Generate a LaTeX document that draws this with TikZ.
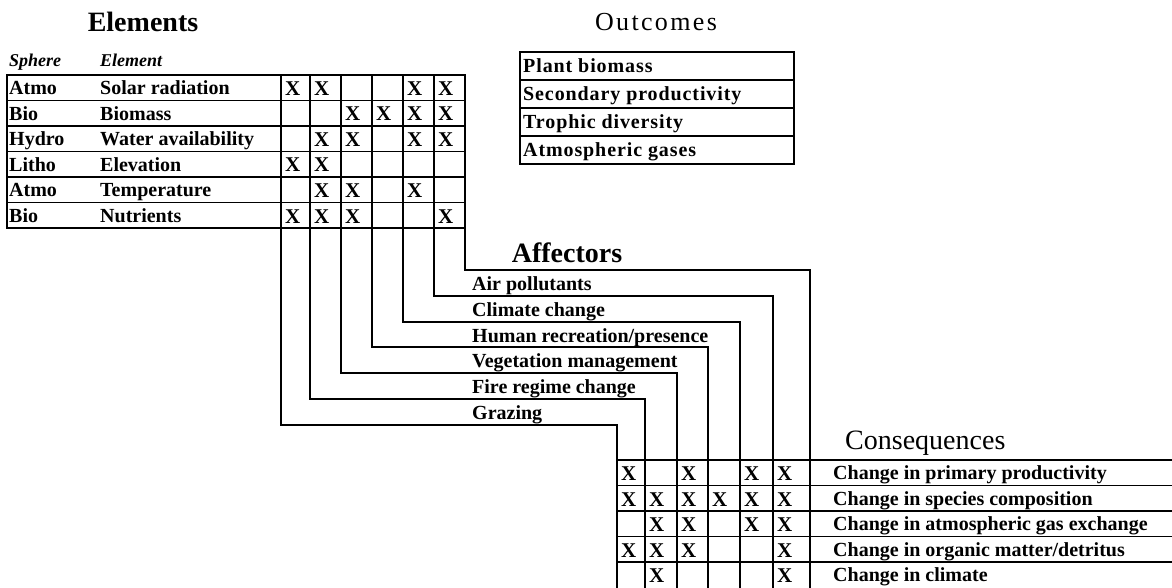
\documentclass[tikz,border=0pt]{standalone}
\usepackage{fontspec}
\setmainfont{Liberation Serif}
\newfontfamily\widefont[LetterSpace=9]{Liberation Serif}
\newfontfamily\airyfont[LetterSpace=4.5]{Liberation Serif}
\begin{document}
\begin{tikzpicture}[x=1pt,y=-1pt,
  rule/.style={line width=1.4pt,black},
  celltext/.style={anchor=base west,inner sep=0pt,font=\fontsize{20}{20}\selectfont\bfseries},
  xmark/.style={anchor=base west,inner sep=0pt,font=\fontsize{21}{21}\selectfont\bfseries},
  headtext/.style={anchor=base west,inner sep=0pt,font=\fontsize{18}{18}\selectfont\bfseries\itshape},
  outtext/.style={anchor=base west,inner sep=0pt,font=\fontsize{20}{20}\selectfont\airyfont\bfseries},
  title/.style={inner sep=0pt,font=\fontsize{28}{28}\selectfont\bfseries},
  lighttitle/.style={inner sep=0pt,font=\fontsize{26}{26}\selectfont\widefont}]
\useasboundingbox (0,0) rectangle (1172,588);

% ---- titles
\node[title] (tEl) at (143,22) {Elements};
\node[lighttitle] (tOut) at (656,22) {Outcomes};
\node[title] (tAff) at (567,253) {Affectors};
\node[anchor=west,inner sep=0pt,font=\fontsize{28}{28}\selectfont] (tCon) at (845,443) {Consequences};

% ---- Elements table frame
\draw[rule] (7,75) rectangle (465,228);
\foreach \y in {100.5,126,151.5,177,202.5}
  \draw[rule] (7,\y) -- (465,\y);

% ---- stepped column lines: Elements -> Affectors -> Consequences
\foreach \a/\b/\c in {281/425/617, 310/399/645, 341/373/677, 372/347/708,
                      403/322/740, 434/296/773, 465/270/810}
  \draw[rule] (\a,75) -- (\a,\b) -- (\c,\b) -- (\c,590);

% ---- Consequences table rows
\foreach \y in {460,485.5,511,536.5,562}
  \draw[rule] (617,\y) -- (1172,\y);

% ---- Outcomes table
\draw[rule] (520,52) rectangle (794,164);
\foreach \y in {80,108,136}
  \draw[rule] (520,\y) -- (794,\y);

% ---- Elements headers and rows
\node[headtext] (hS) at (9,67) {Sphere};
\node[headtext] (hE) at (100,67) {Element};
\foreach \r/\s/\e in {1/Atmo/Solar radiation, 2/Bio/Biomass, 3/Hydro/Water availability,
                      4/Litho/Elevation, 5/Atmo/Temperature, 6/Bio/Nutrients}{
  \pgfmathsetmacro\yy{94.75+25.5*(\r-1)}
  \node[celltext] (s\r) at (9,\yy) {\s};
  \node[celltext] (e\r) at (100,\yy) {\e};
}

% ---- Elements matrix marks
\def\exs{{281,310,341,372,403,434,465}}
\foreach \r/\cols in {1/{1,2,5,6}, 2/{3,4,5,6}, 3/{2,3,5,6},
                      4/{1,2}, 5/{2,3,5}, 6/{1,2,3,6}}{
  \foreach \c in \cols {
    \pgfmathsetmacro\xx{\exs[\c-1]+4}
    \pgfmathsetmacro\yy{95.5+25.5*(\r-1)}
    \node[xmark] (xe\r\c) at (\xx,\yy) {X};
  }
}

% ---- Outcomes rows
\foreach \r/\t in {1/Plant biomass, 2/Secondary productivity,
                   3/Trophic diversity, 4/Atmospheric gases}{
  \pgfmathsetmacro\yy{73+28*(\r-1)}
  \node[outtext] (o\r) at (523,\yy) {\t};
}

% ---- Affectors rows
\foreach \r/\t/\y in {1/Air pollutants/290, 2/Climate change/316,
                      3/Human recreation\slash presence/342, 4/Vegetation management/367,
                      5/Fire regime change/393, 6/Grazing/419}{
  \node[celltext] (a\r) at (472,\y) {\t};
}

% ---- Consequences rows
\foreach \r/\t in {1/Change in primary productivity, 2/Change in species composition,
                   3/Change in atmospheric gas exchange, 4/Change in organic matter\slash detritus,
                   5/Change in climate}{
  \pgfmathsetmacro\yy{479.5+25.5*(\r-1)}
  \node[celltext] (q\r) at (833,\yy) {\t};
}

% ---- Consequences matrix marks
\def\cxs{{617,645,677,708,740,773,810}}
\foreach \r/\cols in {1/{1,3,5,6}, 2/{1,2,3,4,5,6}, 3/{2,3,5,6},
                      4/{1,2,3,6}, 5/{2,6}}{
  \foreach \c in \cols {
    \pgfmathsetmacro\xx{\cxs[\c-1]+4}
    \pgfmathsetmacro\yy{480.5+25.5*(\r-1)}
    \node[xmark] (xc\r\c) at (\xx,\yy) {X};
  }
}
\end{tikzpicture}
\end{document}
